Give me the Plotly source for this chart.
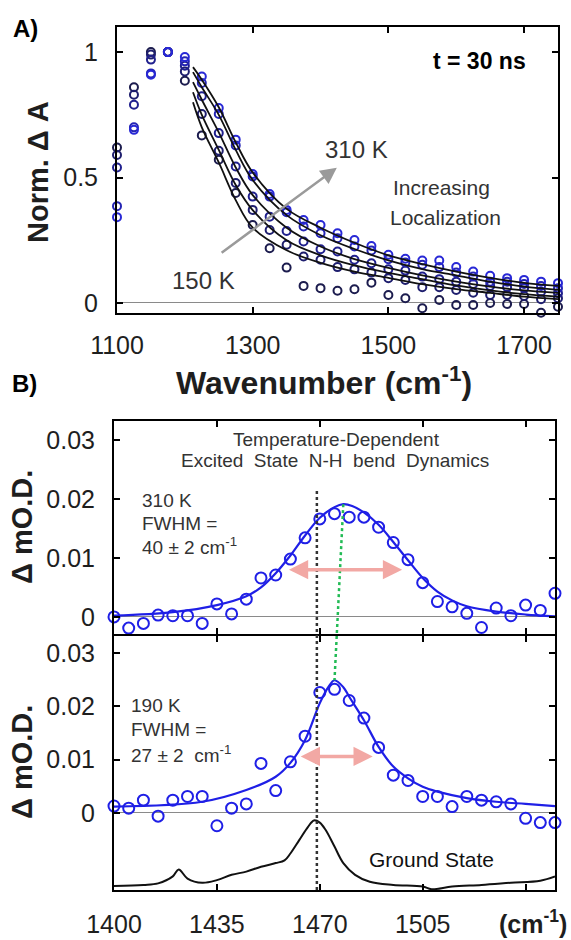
import plotly.graph_objects as go

# ---------------- Panel A data ----------------
wn_a = [1100, 1125, 1150, 1175, 1200, 1225, 1250, 1275, 1300, 1325, 1350, 1375, 1400, 1425,
        1450, 1475, 1500, 1525, 1550, 1575, 1600, 1625, 1650, 1675, 1700, 1725, 1750]
temps_a = ["150 K", "190 K", "230 K", "270 K", "310 K"]
dA_150 = [0.62, 0.86, 1.00, 1.00, 0.886, 0.668, 0.571, 0.438, 0.311, 0.218, 0.141, 0.068, 0.059, 0.049,
          0.055, 0.081, 0.032, 0.019, -0.021, 0.012, -0.008, -0.008, 0.000, -0.004, -0.004, -0.039, -0.015]
dA_190 = [0.59, 0.83, 0.99, 1.00, 0.923, 0.753, 0.607, 0.478, 0.371, 0.291, 0.232, 0.185, 0.172, 0.143,
          0.134, 0.121, 0.099, 0.092, 0.063, 0.063, 0.052, 0.041, 0.032, 0.032, 0.028, 0.015, 0.019]
dA_230 = [0.54, 0.79, 0.97, 1.00, 0.946, 0.824, 0.677, 0.544, 0.424, 0.344, 0.287, 0.245, 0.214, 0.205,
          0.172, 0.158, 0.134, 0.129, 0.105, 0.095, 0.085, 0.076, 0.068, 0.063, 0.059, 0.045, 0.039]
dA_270 = [0.386, 0.70, 0.915, 1.00, 0.963, 0.877, 0.753, 0.628, 0.504, 0.424, 0.362, 0.305, 0.278, 0.258,
          0.225, 0.209, 0.174, 0.161, 0.152, 0.143, 0.121, 0.105, 0.085, 0.085, 0.076, 0.068, 0.059]
dA_310 = [0.342, 0.69, 0.91, 1.00, 0.98, 0.903, 0.777, 0.651, 0.514, 0.434, 0.371, 0.331, 0.311, 0.278,
          0.251, 0.227, 0.192, 0.176, 0.169, 0.169, 0.143, 0.125, 0.108, 0.099, 0.092, 0.085, 0.079]
colors_a = ["#1c1c4e", "#1e1e6e", "#20208e", "#2424b4", "#2828d6"]

fit_wn_a = [1212, 1225, 1250, 1275, 1300, 1350, 1400, 1450, 1500, 1550, 1600, 1650, 1700, 1750]
fit_150 = [0.80, 0.70, 0.56, 0.41, 0.30, 0.21, 0.16, 0.125, 0.10, 0.075, 0.055, 0.04, 0.025, 0.015]
fit_190 = [0.84, 0.75, 0.61, 0.47, 0.37, 0.25, 0.19, 0.15, 0.12, 0.095, 0.07, 0.05, 0.035, 0.025]
fit_230 = [0.88, 0.81, 0.68, 0.54, 0.43, 0.30, 0.225, 0.175, 0.14, 0.11, 0.085, 0.065, 0.05, 0.04]
fit_270 = [0.92, 0.86, 0.75, 0.61, 0.49, 0.35, 0.27, 0.215, 0.17, 0.135, 0.11, 0.085, 0.065, 0.052]
fit_310 = [0.94, 0.89, 0.78, 0.64, 0.52, 0.375, 0.30, 0.24, 0.19, 0.155, 0.125, 0.10, 0.08, 0.068]

arrow_a_tail = (1252, 0.196)
arrow_a_head = (1424, 0.539)

# ---------------- Panel B data ----------------
wn_b = [1400, 1405, 1410, 1415, 1420, 1425, 1430, 1435, 1440, 1445, 1450, 1455, 1460, 1465, 1470, 1475,
        1480, 1485, 1490, 1495, 1500, 1505, 1510, 1515, 1520, 1525, 1530, 1535, 1540, 1545, 1550]
od_310 = [0.0000, -0.0019, -0.0011, 0.0003, 0.0002, 0.0002, -0.0011, 0.0022, 0.0005, 0.0030, 0.0066,
          0.0071, 0.0098, 0.0134, 0.0166, 0.0175, 0.0169, 0.0169, 0.0152, 0.0126, 0.0097, 0.0058,
          0.0026, 0.0017, 0.0006, -0.0018, 0.0015, 0.0002, 0.0020, 0.0011, 0.0040]
od_190 = [0.0013, 0.0009, 0.0024, -0.0006, 0.0024, 0.0031, 0.0031, -0.0024, 0.0009, 0.0017, 0.0093,
          0.0042, 0.0096, 0.0144, 0.0226, 0.0232, 0.0211, 0.0178, 0.0123, 0.0071, 0.0061, 0.0031,
          0.0031, 0.0012, 0.0031, 0.0024, 0.0021, 0.0017, -0.0010, -0.0018, -0.0018]

fit_wn_310 = [1400, 1420, 1435, 1445, 1450, 1455, 1460, 1465, 1470, 1475, 1478, 1481, 1485, 1490, 1495,
              1500, 1505, 1510, 1515, 1520, 1530, 1540, 1550]
fit_od_310 = [0.0002, 0.0008, 0.0020, 0.0035, 0.0050, 0.0074, 0.0104, 0.0138, 0.0168, 0.0186, 0.0191,
              0.0188, 0.0177, 0.0156, 0.0127, 0.0096, 0.0066, 0.0043, 0.0028, 0.0018, 0.0009, 0.0004, 0.0001]
fit_wn_190 = [1400, 1430, 1445, 1455, 1460, 1465, 1470, 1473, 1475, 1478, 1480, 1485, 1490, 1495, 1500,
              1505, 1510, 1520, 1530, 1540, 1550]
fit_od_190 = [0.0012, 0.0021, 0.0043, 0.0068, 0.0094, 0.0137, 0.0206, 0.0237, 0.0249, 0.0236, 0.0218,
              0.0174, 0.0124, 0.0087, 0.0065, 0.0049, 0.0040, 0.0028, 0.0021, 0.0017, 0.0013]

gs_wn = [1400, 1410, 1415, 1420, 1422, 1425, 1430, 1435, 1440, 1445, 1450, 1455, 1458, 1460, 1463, 1466,
         1468, 1470, 1472, 1475, 1478, 1482, 1487, 1495, 1505, 1508, 1515, 1525, 1535, 1545, 1550]
gs_od = [-0.0137, -0.0135, -0.0132, -0.0119, -0.0106, -0.0123, -0.0131, -0.0126, -0.0116, -0.0110,
         -0.0101, -0.0094, -0.0089, -0.0076, -0.0051, -0.0026, -0.0014, -0.0018, -0.0032, -0.0063,
         -0.0094, -0.0116, -0.0129, -0.0135, -0.0138, -0.0143, -0.0138, -0.0135, -0.0131, -0.0127, -0.0119]

gs_peak = 1469
peak_310 = (1478, 0.0191)
peak_190 = (1475, 0.0249)
fwhm_310 = (1459, 1498, 0.0080)
fwhm_190 = (1463, 1488, 0.0106)

# ---------------- geometry ----------------
W, H = 571, 940
def px(x):
    return x / W
def py(y):
    return 1 - y / H

xa_dom = [px(117), px(558)]
ya_dom = [py(313), py(27)]
xb_dom = [px(114), px(555)]
yb1_dom = [py(634), py(421)]
yb2_dom = [py(890), py(636)]

xa_rng = [1100, 1750]
ya_rng = [-0.04, 1.10]
xb_rng = [1400, 1550]
yb1_rng = [-0.0029, 0.0332]
yb2_rng = [-0.01445, 0.0332]

def to_paper(v, rng, dom):
    return dom[0] + (v - rng[0]) / (rng[1] - rng[0]) * (dom[1] - dom[0])

FONT = "Liberation Sans, Arial, sans-serif"
TXT = "#1e1e1e"
BLUE = "#1f1fe6"

fig = go.Figure()

series_a = [dA_150, dA_190, dA_230, dA_270, dA_310]
fits_a = [fit_150, fit_190, fit_230, fit_270, fit_310]
for name, ys, col in zip(temps_a, series_a, colors_a):
    fig.add_trace(go.Scatter(x=wn_a, y=ys, mode="markers", name=name, xaxis="x", yaxis="y",
                             cliponaxis=False,
                             marker=dict(symbol="circle-open", size=8, color=col, line=dict(width=2, color=col))))
for fy in fits_a:
    fig.add_trace(go.Scatter(x=fit_wn_a, y=fy, mode="lines", xaxis="x", yaxis="y",
                             line=dict(color="#111111", width=1.8, shape="spline"), hoverinfo="skip"))

fig.add_trace(go.Scatter(x=fit_wn_310, y=fit_od_310, mode="lines", xaxis="x2", yaxis="y2",
                         line=dict(color=BLUE, width=2.2, shape="spline")))
fig.add_trace(go.Scatter(x=wn_b, y=od_310, mode="markers", xaxis="x2", yaxis="y2", cliponaxis=False,
                         marker=dict(symbol="circle-open", size=11, color=BLUE, line=dict(width=2, color=BLUE))))
fig.add_trace(go.Scatter(x=fit_wn_190, y=fit_od_190, mode="lines", xaxis="x3", yaxis="y3",
                         line=dict(color=BLUE, width=2.2, shape="spline")))
fig.add_trace(go.Scatter(x=gs_wn, y=gs_od, mode="lines", xaxis="x3", yaxis="y3",
                         line=dict(color="#111111", width=2, shape="spline")))
fig.add_trace(go.Scatter(x=wn_b, y=od_190, mode="markers", xaxis="x3", yaxis="y3", cliponaxis=False,
                         marker=dict(symbol="circle-open", size=11, color=BLUE, line=dict(width=2, color=BLUE))))

axis_common = dict(showline=True, linecolor="black", linewidth=2, mirror="ticks", ticks="inside",
                   ticklen=6, tickwidth=2, tickcolor="black", showgrid=False, automargin=False,
                   tickfont=dict(family=FONT, size=25, color=TXT))

fig.update_layout(
    width=W, height=H, margin=dict(l=0, r=0, t=0, b=0),
    paper_bgcolor="white", plot_bgcolor="white", showlegend=False,
    xaxis=dict(domain=xa_dom, range=xa_rng, anchor="y", tickvals=[1100, 1300, 1500, 1700],
               zeroline=False, ticklabelstandoff=9, **axis_common),
    yaxis=dict(domain=ya_dom, range=ya_rng, anchor="x", tickvals=[0, 0.5, 1], ticktext=["0", "0.5", "1"],
               zeroline=True, zerolinecolor="#8a8a8a", zerolinewidth=1, ticklabelstandoff=12, **axis_common),
    xaxis2=dict(domain=xb_dom, range=xb_rng, anchor="y2", tickvals=[1400, 1435, 1470, 1505, 1540],
                showticklabels=False, zeroline=False, **axis_common),
    yaxis2=dict(domain=yb1_dom, range=yb1_rng, anchor="x2", tickvals=[0, 0.01, 0.02, 0.03],
                ticktext=["0", "0.01", "0.02", "0.03"], zeroline=True, zerolinecolor="#8a8a8a",
                zerolinewidth=1, ticklabelstandoff=12, **axis_common),
    xaxis3=dict(domain=xb_dom, range=xb_rng, anchor="y3", tickvals=[1400, 1435, 1470, 1505, 1540],
                ticktext=["1400", "1435", "1470", "1505", ""], zeroline=False, ticklabelstandoff=11,
                **axis_common),
    yaxis3=dict(domain=yb2_dom, range=yb2_rng, anchor="x3", tickvals=[0, 0.01, 0.02, 0.03],
                ticktext=["0", "0.01", "0.02", "0.03"], zeroline=True, zerolinecolor="#8a8a8a",
                zerolinewidth=1, ticklabelstandoff=12, **axis_common),
)

shapes = []
shapes.append(dict(type="line", xref="x2", yref="paper", x0=gs_peak, x1=gs_peak,
                   y0=yb2_dom[0], y1=to_paper(0.0215, yb1_rng, yb1_dom),
                   line=dict(color="#333333", width=2.5, dash="dot")))
shapes.append(dict(type="line", xref="x2", yref="paper", x0=peak_310[0], x1=peak_190[0],
                   y0=to_paper(peak_310[1], yb1_rng, yb1_dom), y1=to_paper(peak_190[1], yb2_rng, yb2_dom),
                   line=dict(color="#22bb55", width=2.5, dash="dot")))
fig.update_layout(shapes=shapes)

ann = []
def txt(x, y, s, size, bold=False, color=TXT, xanchor="center", angle=0):
    if bold:
        s = "<b>" + s + "</b>"
    ann.append(dict(x=px(x), y=py(y), xref="paper", yref="paper", text=s, showarrow=False,
                    xanchor=xanchor, yanchor="middle", textangle=angle,
                    font=dict(family=FONT, size=size, color=color)))

txt(25, 29, "A)", 24, bold=True, color="black")
txt(24, 383, "B)", 24, bold=True, color="black")
txt(479, 61, "t = 30 ns", 23, bold=True, color="black")
txt(356, 150, "310 K", 24, color="#333333")
txt(203, 280, "150 K", 24, color="#333333")
txt(441, 188, "Increasing", 21, color="#333333")
txt(445, 217, "Localization", 21, color="#333333")
txt(38, 172, "Norm. Δ A", 29, bold=True, angle=-90)
txt(324, 381, "Wavenumber (cm<sup>-1</sup>)", 32, bold=True)
txt(22, 527, "Δ mO.D.", 29, bold=True, angle=-90)
txt(22, 762, "Δ mO.D.", 29, bold=True, angle=-90)
txt(336, 439, "Temperature-Dependent", 19, color="#333333")
txt(335, 461, "Excited  State  N-H  bend  Dynamics", 19, color="#333333")
txt(140, 500, "310 K", 19, color="#333333", xanchor="left")
txt(140, 523, "FWHM =", 19, color="#333333", xanchor="left")
txt(140, 546, "40 ± 2 cm<sup>-1</sup>", 19, color="#333333", xanchor="left")
txt(129, 705, "190 K", 19, color="#333333", xanchor="left")
txt(129, 729, "FWHM =", 19, color="#333333", xanchor="left")
txt(129, 754, "27 ± 2  cm<sup>-1</sup>", 19, color="#333333", xanchor="left")
txt(431, 859, "Ground State", 21, color="#111111")
txt(569, 922, "(cm<sup>-1</sup>)", 25, bold=True, xanchor="right")

ann.append(dict(x=arrow_a_head[0], y=arrow_a_head[1], ax=arrow_a_tail[0], ay=arrow_a_tail[1],
                xref="x", yref="y", axref="x", ayref="y", text="", showarrow=True,
                arrowhead=2, arrowsize=1.3, arrowwidth=2.5, arrowcolor="#9a9a9a"))
for (x0, x1, lvl), xr, yr in [(fwhm_310, "x2", "y2"), (fwhm_190, "x3", "y3")]:
    ann.append(dict(x=x1, y=lvl, ax=x0, ay=lvl, xref=xr, yref=yr, axref=xr, ayref=yr, text="",
                    showarrow=True, arrowhead=2, arrowside="end+start", arrowsize=1.1, arrowwidth=3.5,
                    arrowcolor="#f2a8a4"))
fig.update_layout(annotations=ann)

fig.write_html("out.html")
